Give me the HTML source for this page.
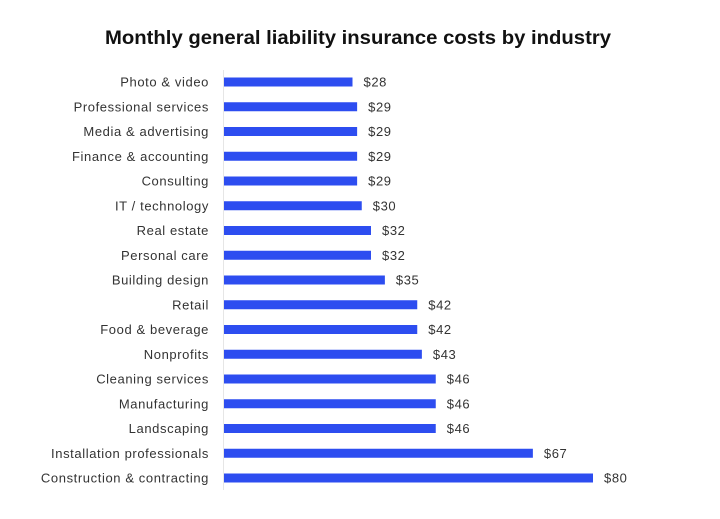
<!DOCTYPE html>
<html><head><meta charset="utf-8"><style>
html,body{margin:0;padding:0;background:#fff;}
svg{display:block;}
text{font-family:"Liberation Sans",sans-serif;}
</style></head><body>
<svg width="720" height="519" viewBox="0 0 720 519" xmlns="http://www.w3.org/2000/svg">
<rect width="720" height="519" fill="#fff"/>
<text x="358" y="44" text-anchor="middle" font-size="19" font-weight="bold" fill="#111" textLength="506" lengthAdjust="spacingAndGlyphs">Monthly general liability insurance costs by industry</text>
<line x1="223.5" y1="70" x2="223.5" y2="490" stroke="#e6e6e6" stroke-width="1"/>
<g font-size="13" fill="#333" letter-spacing="0.6">
<g id="rows"></g>
</g>
<script>
const d=[["Photo & video",28],["Professional services",29],["Media & advertising",29],["Finance & accounting",29],["Consulting",29],["IT / technology",30],["Real estate",32],["Personal care",32],["Building design",35],["Retail",42],["Food & beverage",42],["Nonprofits",43],["Cleaning services",46],["Manufacturing",46],["Landscaping",46],["Installation professionals",67],["Construction & contracting",80]];
const g=document.getElementById('rows');const ns="http://www.w3.org/2000/svg";
d.forEach((r,i)=>{const cy=82+i*24.75;const w=r[1]*4.625;
let t=document.createElementNS(ns,'text');t.setAttribute('x',209);t.setAttribute('y',cy+4.5);t.setAttribute('text-anchor','end');t.textContent=r[0];g.appendChild(t);
let b=document.createElementNS(ns,'rect');b.setAttribute('x',224);b.setAttribute('y',cy-4.5);b.setAttribute('width',w-1);b.setAttribute('height',9);b.setAttribute('fill','#2d4df0');g.appendChild(b);
let v=document.createElementNS(ns,'text');v.setAttribute('x',223+w+11);v.setAttribute('y',cy+4.5);v.textContent='$'+r[1];g.appendChild(v);});
</script>
</svg>
</body></html>
